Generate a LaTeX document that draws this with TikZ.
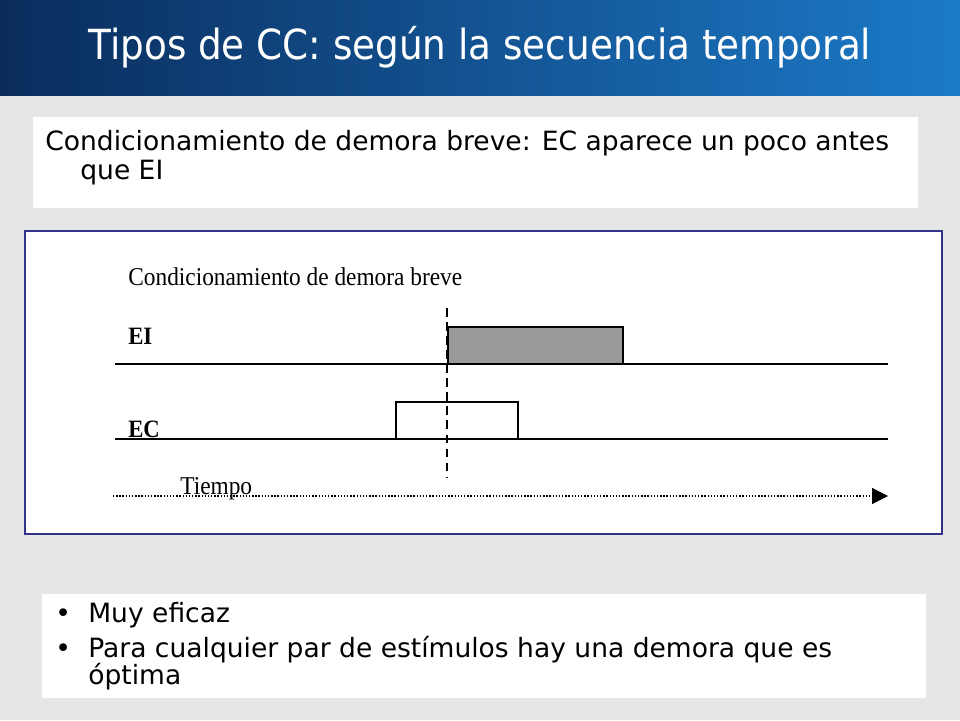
\documentclass[tikz,border=0pt]{standalone}
\usepackage{fontspec}
\setmainfont{DejaVu Sans}
\newfontfamily\timesfont{Liberation Serif}[FakeStretch=0.91]
\newfontfamily\condfont{DejaVu Sans Condensed}
\usetikzlibrary{arrows.meta}

\definecolor{fondo}{HTML}{E6E6E6}
\definecolor{marino}{HTML}{0A2C5C}
\definecolor{azul}{HTML}{1C7AC8}
\definecolor{gris}{HTML}{999999}
\definecolor{marco}{HTML}{33338A}

\tikzset{
  titulo/.style={text=white, font=\condfont\fontsize{23.6}{28}\selectfont},
  texto/.style={anchor=base west, inner sep=0pt, font=\fontsize{15.1}{18}\selectfont},
  serif/.style={anchor=base west, inner sep=0pt, font=\timesfont\fontsize{14.6}{17}\selectfont},
  negrita/.style={serif, font=\timesfont\bfseries\fontsize{14.2}{17}\selectfont},
  vineta/.style={anchor=base west, inner sep=0pt, font=\fontsize{15.1}{18}\selectfont},
  eje/.style={line width=0.6pt}
}

\begin{document}
\begin{tikzpicture}[x=0.02cm,y=-0.02cm]
\useasboundingbox (0,0) rectangle (960,720);
\fill[fondo] (0,0) rectangle (960,720);
% cabecera
\shade[left color=marino, right color=azul] (0,0) rectangle (960,95);
\node[titulo] (titulo) at (480,47) {Tipos de CC: según la secuencia temporal};

% definicion
\fill[white] (33,117) rectangle (918,208);
\node[texto] (def1) at (45,150) {Condicionamiento de demora breve: EC aparece un poco antes};
\node[texto] (def2) at (80,179) {que EI};

% esquema temporal
\draw[marco, fill=white, line width=0.6pt] (25,231) rectangle (942,534);
\node[serif] (nombre) at (128,285) {Condicionamiento de demora breve};
\node[negrita] (ei) at (128,344) {EI};
\node[negrita] (ec) at (128,437) {EC};
\draw[eje] (115,364) -- (888,364);
\draw[eje] (115,439) -- (888,439);
\draw[eje, fill=gris] (448,327) rectangle (623,364);
\draw[eje] (396,402) rectangle (518,439);
\draw[eje, dashed, dash pattern=on 5pt off 3pt] (447,308) -- (447,477);
\node[serif] (tiempo) at (180,494) {Tiempo};
\draw[densely dotted, line width=0.8pt, -{Triangle[length=9pt, width=9pt]}] (113,496) -- (888,496);

% ventajas
\fill[white] (42,594) rectangle (926,698);
\node[vineta] (b1) at (55,622) {•};
\node[vineta] (t1) at (88,622) {Muy eficaz};
\node[vineta] (b2) at (55,657) {•};
\node[vineta] (t2) at (88,657) {Para cualquier par de estímulos hay una demora que es};
\node[vineta] (t3) at (88,684) {óptima};
\end{tikzpicture}
\end{document}
